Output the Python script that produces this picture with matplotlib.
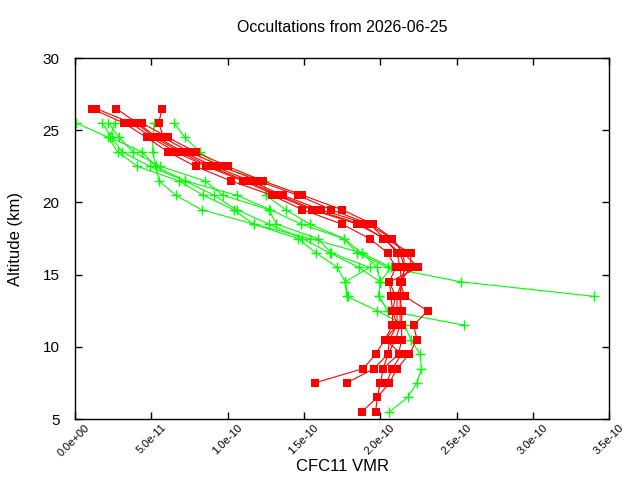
import matplotlib
matplotlib.use('Agg')
import matplotlib.pyplot as plt
import matplotlib.transforms as mtransforms
from matplotlib.ticker import FuncFormatter

plt.rcParams['font.family'] = ['Liberation Sans', 'DejaVu Sans']

# altitudes (km) of the retrieval grid, top down
alt_top = [26.5, 25.5, 24.5, 23.5, 22.5, 21.5, 20.5, 19.5, 18.5, 17.5, 16.5,
           15.5, 14.5, 13.5, 12.5, 11.5, 10.5, 9.5, 8.5, 7.5, 6.5, 5.5]

# red profiles, CFC11 VMR in units of 1e-10 (first value at 26.5 km, or 25.5 km for r5/r6)
r1 = [0.11, 0.32, 0.47, 0.61, 0.79, 1.02, 1.29, 1.49, 1.75, 1.93, 2.05, 2.10, 2.06, 2.07, 2.08, 2.08, 2.03, 1.97, 1.89, 1.57]
r2 = [0.14, 0.37, 0.50, 0.66, 0.86, 1.10, 1.32, 1.55, 1.85, 2.03, 2.11, 2.13, 2.14, 2.11, 2.11, 2.11, 2.06, 2.05, 1.96, 1.78]
r3 = [0.27, 0.41, 0.54, 0.71, 0.91, 1.15, 1.36, 1.61, 1.92, 2.08, 2.15, 2.16, 2.14, 2.13, 2.14, 2.14, 2.14, 2.12, 2.02, 2.00, 1.98, 1.88]
r4 = [0.57, 0.55, 0.58, 0.75, 0.96, 1.20, 1.46, 1.68, 1.93, 2.03, 2.20, 2.20, 2.13, 2.16, 2.31, 2.22, 2.24, 2.19, 2.11, 2.06, 1.98, 1.97]
r5 = [0.44, 0.61, 0.79, 1.00, 1.23, 1.49, 1.75, 1.95, 2.08, 2.15, 2.25, 2.06, 2.10, 2.08, 2.11, 2.03, 2.14, 2.08, 2.04]
r6 = [0.40, 0.52, 0.69, 0.88, 1.12, 1.34, 1.57, 1.87, 2.02, 2.13, 2.16, 2.14, 2.13, 2.13, 2.13, 2.10, 2.05, 2.02]
red_start = [26.5, 26.5, 26.5, 26.5, 25.5, 25.5]

# green profiles, all starting at 25.5 km
g1 = [0.01, 0.22, 0.28, 0.41, 0.68, 0.84, 1.04, 1.17, 1.46, 1.58, 1.72, 1.77, 1.78, 1.98, 2.16, 2.20, 2.26, 2.27, 2.24, 2.18, 2.06]
g2 = [0.18, 0.24, 0.31, 0.49, 0.72, 0.91, 1.06, 1.27, 1.49, 1.67, 1.86, 2.00, 1.99, 2.05, 2.55]
g3 = [0.22, 0.29, 0.38, 0.56, 0.85, 0.97, 1.27, 1.32, 1.59, 1.68, 1.93, 1.77, 1.79]
g4 = [0.26, 0.23, 0.44, 0.53, 0.72, 1.06, 1.28, 1.48, 1.76, 1.85, 2.05, 2.53, 3.40]
g5 = [0.52, 0.51, 0.51, 0.53, 0.55, 0.66, 0.83, 1.17, 1.54, 1.88, 1.98, 2.00]
g6 = [0.65, 0.72, 0.82, 0.94, 1.24, 1.25, 1.38, 1.54, 1.76, 1.88, 2.07, 2.00, 1.99, 2.05]

reds = [r1, r2, r3, r4, r5, r6]
greens = [g1, g2, g3, g4, g5, g6]

xticks = [0.0, 0.5e-10, 1.0e-10, 1.5e-10, 2.0e-10, 2.5e-10, 3.0e-10, 3.5e-10]
yticks = [5, 10, 15, 20, 25, 30]

fig = plt.figure(figsize=(6.4, 4.8), dpi=100)
ax = fig.add_axes([0.117, 0.127, 0.835, 0.752])

def alts(start, n):
    i = alt_top.index(start)
    return alt_top[i:i + n]

for prof in greens:
    ax.plot([v * 1e-10 for v in prof], alts(25.5, len(prof)), color='#00ff00',
            lw=0.8, marker='+', ms=7, mew=1.0)

for prof, s in zip(reds, red_start):
    ax.plot([v * 1e-10 for v in prof], alts(s, len(prof)), color='#ff0000',
            lw=0.8, marker='s', ms=6.3, mew=0)

ax.set_xlim(0, 3.5e-10)
ax.set_ylim(5, 30)
ax.set_xticks(xticks)
ax.set_yticks(yticks)
ax.xaxis.set_major_formatter(FuncFormatter(lambda x, p: f"{x:.1e}"))
ax.tick_params(direction='in', top=True, right=True, length=5, width=1)
ax.tick_params(axis='x', labelsize=8, pad=5)
ax.tick_params(axis='y', labelsize=11, pad=11)

# gnuplot-like rotated tick labels: right end a bit right of the tick
shift = mtransforms.ScaledTranslation(0.13, 0, fig.dpi_scale_trans)
for lab in ax.get_xticklabels():
    lab.set_rotation(45)
    lab.set_ha('right')
    lab.set_va('center')
    lab.set_rotation_mode('anchor')
    lab.set_transform(lab.get_transform() + shift)
for sp in ax.spines.values():
    sp.set_linewidth(1)

ax.set_title('Occultations from 2026-06-25', fontsize=11.5, pad=19)
ax.set_xlabel('CFC11 VMR', fontsize=12, labelpad=1)
ax.set_ylabel('Altitude (km)', fontsize=12, labelpad=14)

fig.savefig('out.png', dpi=100)
